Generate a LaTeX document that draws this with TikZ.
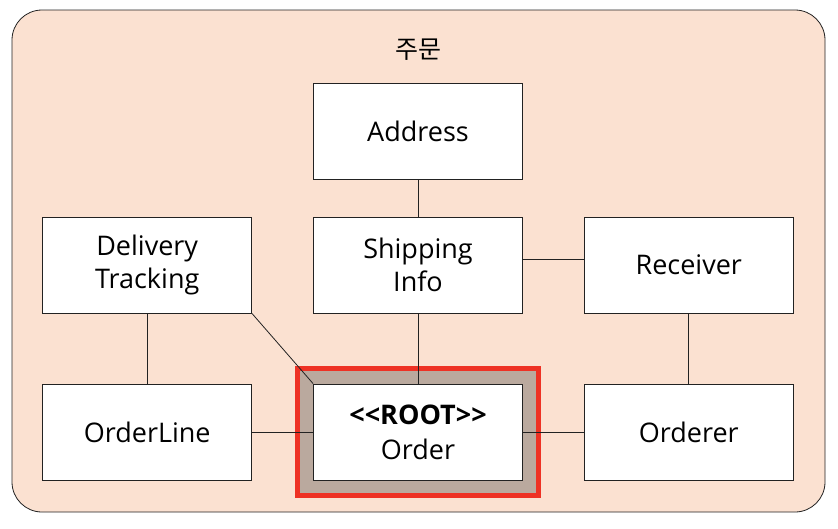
\documentclass[tikz,border=0pt]{standalone}
\usepackage{fontspec}
\setmainfont{Open Sans}
\newfontfamily\krfont{Noto Sans CJK KR}
\usetikzlibrary{positioning,fit,backgrounds}
\definecolor{Peach}{HTML}{FBE1D1}
\definecolor{RootGray}{HTML}{BAA99E}
\definecolor{RootRed}{HTML}{EE3124}
\definecolor{Edge}{HTML}{222222}

\begin{document}
\begin{tikzpicture}[
  x=1pt, y=1pt,
  ebox/.style={draw=Edge, fill=white, line width=0.8pt, minimum width=209pt, minimum height=96pt,
               align=center, font=\fontsize{27}{33}\selectfont, inner sep=0pt},
  link/.style={draw=Edge, line width=0.8pt},
  node distance=70pt and 61pt
]
  \useasboundingbox (0,0) rectangle (838,-528);
  \node[ebox]                      (order) at (418,-432) {{\bfseries <{}<ROOT>{}>}\\[2pt]Order};
  \node[ebox, above=of order]      (ship)  {Shipping\\Info};
  \node[ebox, above=37pt of ship]  (addr)  {Address};
  \node[ebox, left=of order]       (oline) {OrderLine};
  \node[ebox, right=of order]      (orer)  {Orderer};
  \node[ebox, above=of oline]      (track) {Delivery\\Tracking};
  \node[ebox, above=of orer]       (recv)  {Receiver};
  \node[font=\krfont\fontsize{25}{28}\selectfont] (title) at (418,-50) {주문};
  \begin{scope}[on background layer]
    \draw[Edge, fill=Peach, line width=0.8pt, rounded corners=30pt] (12,-10) rectangle (825,-512);
    \node[fit=(order), inner sep=15.5pt, draw=RootRed, line width=5pt, fill=RootGray] (rootframe) {};
  \end{scope}
  \draw[link] (addr) -- (ship);
  \draw[link] (ship) -- (order);
  \draw[link] ([yshift=6pt]ship.east) -- ([yshift=6pt]recv.west);
  \draw[link] (recv) -- (orer);
  \draw[link] (track) -- (oline);
  \draw[link] (oline) -- (order);
  \draw[link] (order) -- (orer);
  \draw[link] (track.south east) -- (order.north west);
\end{tikzpicture}
\end{document}
